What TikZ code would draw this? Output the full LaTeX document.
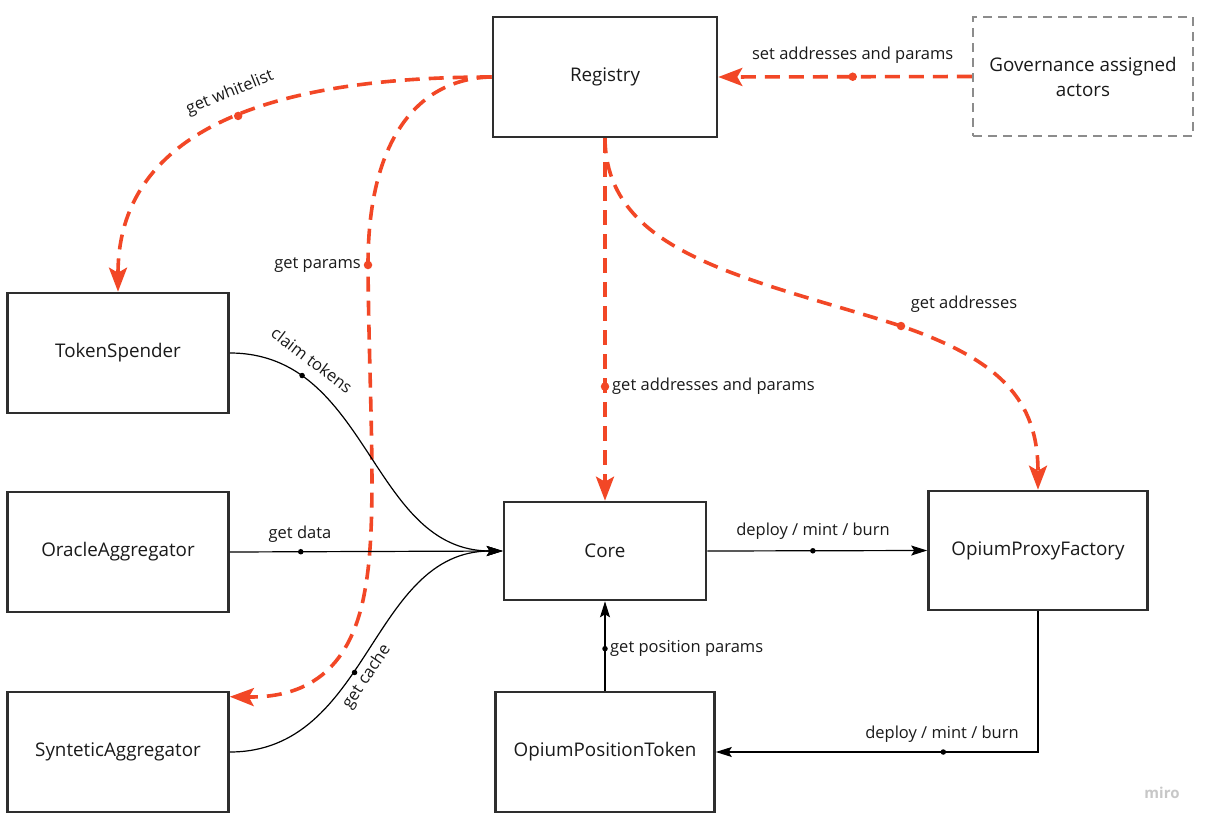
\documentclass[tikz,border=0pt]{standalone}
\usepackage{fontspec}
\setmainfont{Open Sans}
\usetikzlibrary{arrows.meta,calc}
\definecolor{mred}{HTML}{F24726}
\definecolor{mbox}{HTML}{2E2E2E}
\definecolor{mgray}{HTML}{8C8C8C}
\definecolor{mtext}{HTML}{1A1A1A}
\begin{document}
\begin{tikzpicture}[x=1pt,y=-1pt,
  box/.style={draw=mbox,line width=2.6pt,minimum width=221pt,minimum height=120pt,inner sep=0pt,
    font=\fontsize{18.8}{25}\selectfont,text=mtext,align=center},
  govbox/.style={box,draw=mgray,line width=2.2pt,dash pattern=on 9pt off 6pt},
  redline/.style={draw=mred,line width=3.6pt,dash pattern=on 15pt off 9pt,
    -{Stealth[length=24pt,width=18pt,inset=5pt]}},
  blkline/.style={draw=black,line width=1.2pt,-{Stealth[length=16pt,width=10pt,inset=3pt]}},
  rdot/.style={circle,fill=mred,inner sep=0pt,minimum size=8.5pt},
  bdot/.style={circle,fill=black,inner sep=0pt,minimum size=5.5pt},
  lbl/.style={font=\fontsize{16.5}{19}\selectfont,text=mtext,inner sep=1pt}]
\useasboundingbox (0,0) rectangle (1208,827);
\fill[white] (0,0) rectangle (1208,827);

% boxes
\node[box,minimum width=224pt] (registry) at (605,77) {Registry};
\node[govbox,minimum width=220pt,minimum height=119pt] (gov) at (1083,76.5) {Governance assigned\\actors};
\node[box] (ts) at (118,353) {TokenSpender};
\node[box] (oa) at (118,552) {OracleAggregator};
\node[box] (sa) at (118,752) {SynteticAggregator};
\node[box,minimum width=202pt,minimum height=98pt] (core) at (605,551) {Core};
\node[box,minimum width=219pt,minimum height=119pt] (opf) at (1038,550.5) {OpiumProxyFactory};
\node[box,minimum width=219pt] (opt) at (605,752) {OpiumPositionToken};

% red dashed connectors
\draw[redline] (gov.west) -- (registry.east)
  node[rdot,pos=0.47]{}
  node[lbl,pos=0.47,above=10pt]{set addresses and params};

\draw[redline] (registry.west) .. controls (260,77) and (118,135) .. (ts.north)
  node[rdot,pos=0.45]{};
\node[lbl,rotate=22] (lwl) at (230,93) {get whitelist};

\draw[redline] (registry.west) .. controls (425,78) and (368,130) .. (368,265)
  node[rdot](gpd){}
  .. controls (369,400) and (378,520) .. (365,590)
  .. controls (352,665) and (312,698) .. ([yshift=-6pt]sa.north east);
\node[lbl,anchor=east] (lgp) at ([xshift=-6pt]gpd.center) {get params};

\draw[redline] (registry.south) -- (core.north)
  node[rdot,pos=0.685](gad){};
\node[lbl,anchor=west] (lgad) at ([xshift=6pt]gad.center) {get addresses and params};

\draw[redline] (registry.south) .. controls (606,255) and (750,278) .. (901,326)
  node[rdot](gadr){}
  .. controls (1000,360) and (1038,400) .. (opf.north);
\node[lbl] (lgadr) at (964,304) {get addresses};

% black connectors
\draw[blkline] (ts.east) .. controls (370,353) and (370,551) .. (core.west)
  node[bdot,pos=0.21]{};
\node[lbl,rotate=-37] (lct) at (312,360) {claim tokens};

\draw[blkline] (oa.east) -- (core.west)
  node[bdot,pos=0.26](gdd){};
\node[lbl] (lgd) at (300,534) {get data};

\draw[blkline] (sa.east) .. controls (370,752) and (370,551) .. (core.west)
  node[bdot,pos=0.43]{};
\node[lbl,rotate=56] (lgc) at (367,677) {get cache};

\draw[blkline] (core.east) -- (opf.west)
  node[bdot,pos=0.48](dmb){};
\node[lbl] (ldmb) at (813,531) {deploy / mint / burn};

\draw[blkline] (opf.south) |- (opt.east)
  node[bdot,pos=0.647](dmb2){};
\node[lbl] (ldmb2) at (942,734) {deploy / mint / burn};

\draw[blkline] (opt.north) -- (core.south)
  node[bdot,pos=0.47](gpp){};
\node[lbl,anchor=west] (lgpp) at ([xshift=4pt]gpp.center) {get position params};

\node[font=\fontsize{15}{18}\selectfont\bfseries,text=black!22] (miro) at (1162,793) {miro};
\end{tikzpicture}
\end{document}
